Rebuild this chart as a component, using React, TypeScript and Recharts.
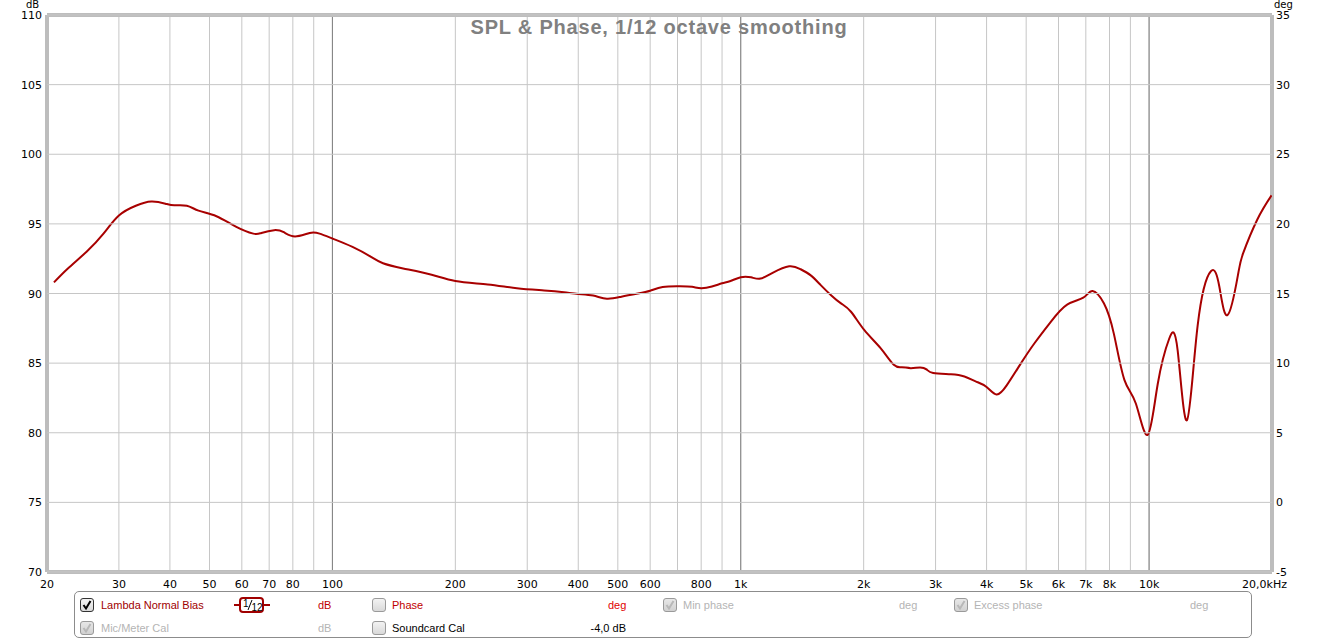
import React from 'react';
import { LineChart, Line, XAxis, YAxis, CartesianGrid, ReferenceLine } from 'recharts';

const freqs = [20.8, 22.5, 25, 27.5, 30, 33, 36, 39, 41, 44, 47, 52, 58, 64, 67, 72, 76, 81, 88, 93, 100, 112, 124, 133, 149, 175, 200, 240, 283, 330, 369, 400, 435, 470, 510, 560, 600, 644, 710, 760, 800, 850, 900, 944, 1000, 1060, 1118, 1200, 1314, 1400, 1484, 1570, 1664, 1760, 1862, 2006, 2200, 2370, 2480, 2608, 2750, 2850, 2960, 3272, 3530, 3760, 4000, 4230, 4480, 4858, 5240, 5745, 6300, 6900, 7270, 7750, 8200, 8700, 9280, 9920, 10500, 11200, 11750, 12380, 13150, 14170, 14860, 15570, 16500, 17000, 18400, 19950];
const splDb = [90.8, 91.8, 93.0, 94.3, 95.6, 96.3, 96.6, 96.45, 96.33, 96.3, 95.95, 95.55, 94.8, 94.3, 94.35, 94.55, 94.4, 94.1, 94.35, 94.3, 93.95, 93.35, 92.65, 92.17, 91.8, 91.35, 90.9, 90.65, 90.38, 90.22, 90.09, 89.97, 89.85, 89.63, 89.77, 90.0, 90.2, 90.47, 90.52, 90.48, 90.38, 90.5, 90.73, 90.9, 91.17, 91.16, 91.07, 91.5, 91.95, 91.75, 91.3, 90.6, 89.88, 89.29, 88.69, 87.38, 86.07, 84.88, 84.71, 84.64, 84.69, 84.55, 84.29, 84.2, 84.04, 83.69, 83.29, 82.75, 83.4, 85.0, 86.43, 87.97, 89.2, 89.7, 90.18, 89.3, 87.1, 83.8, 82.1, 79.85, 83.5, 86.75, 85.9, 80.9, 87.7, 91.6, 90.5, 88.45, 91.3, 92.9, 95.3, 97.05];

const gridFreqs = [20, 30, 40, 50, 60, 70, 80, 90, 100, 200, 300, 400, 500, 600, 700, 800, 900, 1000, 2000, 3000, 4000, 5000, 6000, 7000, 8000, 9000, 10000, 20000];
const freqLabels: Record<number, string> = {
  20: '20', 30: '30', 40: '40', 50: '50', 60: '60', 70: '70', 80: '80', 100: '100',
  200: '200', 300: '300', 400: '400', 500: '500', 600: '600', 800: '800', 1000: '1k',
  2000: '2k', 3000: '3k', 4000: '4k', 5000: '5k', 6000: '6k', 7000: '7k', 8000: '8k',
  10000: '10k', 20000: '20,0kHz',
};
const decadeFreqs = [100, 1000, 10000];
const dbTicks = [70, 75, 80, 85, 90, 95, 100, 105, 110];
const degTicks = [-5, 0, 5, 10, 15, 20, 25, 30, 35];

const data = freqs.map((f, i) => ({ f, spl: splDb[i] }));

const TICK_FONT = '"DejaVu Sans", Verdana, sans-serif';
const LEG_FONT = '"Liberation Sans", Arial, sans-serif';

const XTick = (props: any) => {
  const { x, y, payload } = props;
  const label = freqLabels[payload.value];
  if (!label) return <g />;
  const isLast = payload.value === 20000;
  return (
    <text x={isLast ? x + 15 : x} y={y + 16} textAnchor={isLast ? 'end' : 'middle'} fontFamily={TICK_FONT} fontSize={11} fill="#000">
      {label}
    </text>
  );
};

const LeftTick = (props: any) => {
  const { x, y, payload } = props;
  return (
    <g>
      <line x1={x + 5} x2={1272} y1={y} y2={y} stroke="#c6c6c6" strokeWidth={1} />
      <text x={x} y={y + 4} textAnchor="end" fontFamily={TICK_FONT} fontSize={11} fill="#000">
        {payload.value}
      </text>
    </g>
  );
};

const RightTick = (props: any) => {
  const { x, y, payload } = props;
  return (
    <text x={x} y={y + 4} textAnchor="start" fontFamily={TICK_FONT} fontSize={11} fill="#000">
      {payload.value}
    </text>
  );
};

const CheckBox = ({ checked, disabled }: { checked: boolean; disabled?: boolean }) => (
  <svg width={14} height={14} style={{ display: 'block' }}>
    <defs>
      <linearGradient id={disabled ? 'cbgd' : 'cbg'} x1="0" y1="0" x2="0" y2="1">
        <stop offset="0" stopColor={disabled ? '#e8e8e8' : '#f4f4f4'} />
        <stop offset="1" stopColor={disabled ? '#d0d0d0' : '#d8d8d8'} />
      </linearGradient>
    </defs>
    <rect x={0.5} y={0.5} width={13} height={13} rx={2.5} fill={`url(#${disabled ? 'cbgd' : 'cbg'})`} stroke={checked && !disabled ? '#333' : '#9a9a9a'} />
    {checked && (
      <path d="M3.5 7 L6 10.5 L10.5 3" fill="none" stroke={disabled ? '#b8b8b8' : '#000'} strokeWidth={2} />
    )}
  </svg>
);

const SmoothIcon = () => (
  <svg width={36} height={16} style={{ display: 'block' }}>
    <line x1={0} y1={8} x2={36} y2={8} stroke="#a00000" strokeWidth={2} />
    <rect x={6} y={1} width={23} height={14} rx={3} fill="#fff" stroke="#a00000" strokeWidth={2} />
    <text x={9} y={10} fontFamily={LEG_FONT} fontSize={10} fill="#000">1</text>
    <line x1={14} y1={13} x2={18} y2={3} stroke="#000" strokeWidth={1} />
    <text x={17.5} y={13.5} fontFamily={LEG_FONT} fontSize={10} fill="#000">12</text>
  </svg>
);

const Txt = ({ x, y, color, children, anchorEnd }: any) => (
  <div style={{ position: 'absolute', left: anchorEnd ? undefined : x, right: anchorEnd ? 1329 - x : undefined, top: y - 7, fontFamily: LEG_FONT, fontSize: 11, color, lineHeight: '14px', whiteSpace: 'nowrap' }}>
    {children}
  </div>
);

const Pos = ({ x, y, children }: any) => (
  <div style={{ position: 'absolute', left: x, top: y }}>{children}</div>
);

export default function App() {
  const r1 = 605;
  const r2 = 628;
  return (
    <div style={{ position: 'absolute', left: 0, top: 0, width: 1329, height: 642, background: '#fff', overflow: 'hidden' }}>
      <LineChart width={1329} height={642} data={data} margin={{ top: 15, right: 0, left: 0, bottom: 50 }}>
        <CartesianGrid yAxisId="left" horizontal={false} stroke="#c6c6c6" strokeWidth={1} />
        <XAxis
          dataKey="f"
          type="number"
          scale="log"
          domain={[20, 20000]}
          ticks={gridFreqs}
          interval={0}
          allowDataOverflow
          axisLine={false}
          tickLine={false}
          tickSize={0}
          tickMargin={0}
          height={20}
          tick={<XTick />}
        />
        <YAxis
          yAxisId="left"
          domain={[70, 110]}
          ticks={dbTicks}
          interval={0}
          width={47}
          axisLine={false}
          tickLine={false}
          tickSize={0}
          tickMargin={5}
          tick={<LeftTick />}
          allowDataOverflow
        />
        <YAxis
          yAxisId="right"
          orientation="right"
          domain={[-5, 35]}
          ticks={degTicks}
          interval={0}
          width={57}
          axisLine={false}
          tickLine={false}
          tickSize={0}
          tickMargin={4}
          tick={<RightTick />}
          allowDataOverflow
        />
        {decadeFreqs.map((f) => (
          <ReferenceLine key={f} x={f} yAxisId="left" stroke="#808080" strokeWidth={1} />
        ))}
        <ReferenceLine x={20} yAxisId="left" stroke="#bdbdbd" strokeWidth={4} />
        <ReferenceLine x={20000} yAxisId="left" stroke="#bdbdbd" strokeWidth={4} />
        <ReferenceLine y={110} yAxisId="left" stroke="#bdbdbd" strokeWidth={4} />
        <ReferenceLine y={70} yAxisId="left" stroke="#bdbdbd" strokeWidth={4} />
        <Line
          yAxisId="left"
          dataKey="spl"
          type="natural"
          stroke="#a80000"
          strokeWidth={2}
          dot={false}
          activeDot={false}
          isAnimationActive={false}
        />
      </LineChart>

      <div style={{ position: 'absolute', left: 0, top: 14, width: 1318, textAlign: 'center', fontFamily: LEG_FONT, fontWeight: 'bold', fontSize: 20, letterSpacing: 0.8, color: '#808080', lineHeight: '26px' }}>
        SPL &amp; Phase, 1/12 octave smoothing
      </div>
      <div style={{ position: 'absolute', left: 26, top: 0, fontFamily: TICK_FONT, fontSize: 10, color: '#000', lineHeight: '10px' }}>dB</div>
      <div style={{ position: 'absolute', left: 1274, top: 0, fontFamily: TICK_FONT, fontSize: 10, color: '#000', lineHeight: '10px' }}>deg</div>

      <div style={{ position: 'absolute', left: 74, top: 591, width: 1178, height: 47, border: '1px solid #8c8c8c', borderRadius: 5, boxSizing: 'border-box' }} />
      <Pos x={80} y={r1 - 7}><CheckBox checked /></Pos>
      <Txt x={101} y={r1} color="#a00000">Lambda Normal Bias</Txt>
      <Pos x={234} y={r1 - 8}><SmoothIcon /></Pos>
      <Txt x={318} y={r1} color="#c00000">dB</Txt>
      <Pos x={372} y={r1 - 7}><CheckBox checked={false} /></Pos>
      <Txt x={392} y={r1} color="#c00000">Phase</Txt>
      <Txt x={608} y={r1} color="#e00000">deg</Txt>
      <Pos x={663} y={r1 - 7}><CheckBox checked disabled /></Pos>
      <Txt x={683} y={r1} color="#b4b4b4">Min phase</Txt>
      <Txt x={899} y={r1} color="#b4b4b4">deg</Txt>
      <Pos x={954} y={r1 - 7}><CheckBox checked disabled /></Pos>
      <Txt x={974} y={r1} color="#b4b4b4">Excess phase</Txt>
      <Txt x={1190} y={r1} color="#b4b4b4">deg</Txt>

      <Pos x={80} y={r2 - 7}><CheckBox checked disabled /></Pos>
      <Txt x={101} y={r2} color="#b4b4b4">Mic/Meter Cal</Txt>
      <Txt x={318} y={r2} color="#b4b4b4">dB</Txt>
      <Pos x={372} y={r2 - 7}><CheckBox checked={false} /></Pos>
      <Txt x={392} y={r2} color="#000">Soundcard Cal</Txt>
      <Txt x={626} y={r2} color="#000" anchorEnd>-4,0 dB</Txt>
    </div>
  );
}
